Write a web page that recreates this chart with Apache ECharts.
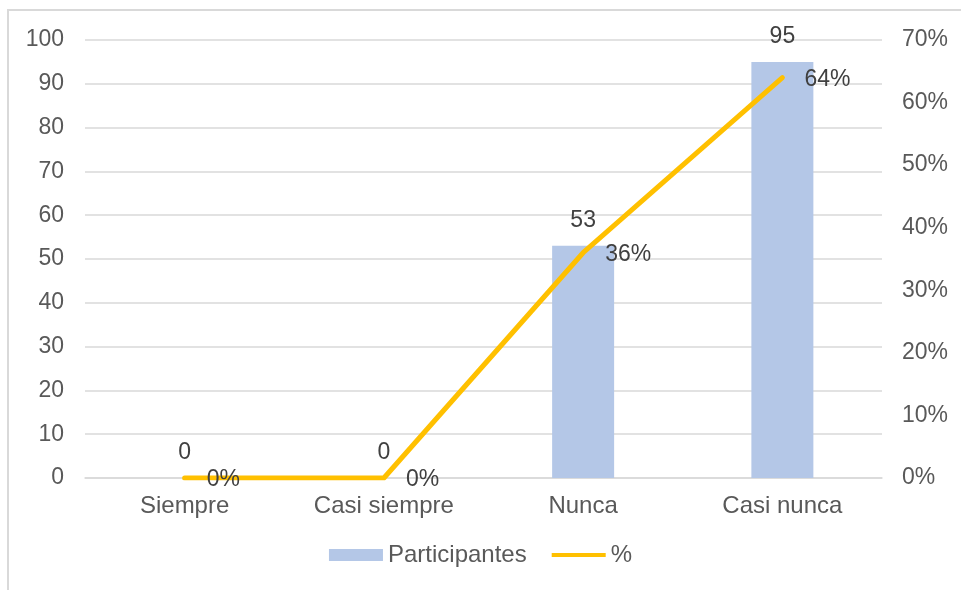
<!DOCTYPE html>
<html>
<head>
<meta charset="utf-8">
<script src="https://cdn.jsdelivr.net/npm/echarts@6/dist/echarts.min.js"></script>
<style>
  html, body { margin: 0; padding: 0; background: #fff; }
  #frame { position: absolute; left: 7px; top: 9px; width: 1000px; height: 700px; border: 2px solid #d9d9d9; }
  #chart { position: absolute; left: 0; top: 0; width: 961px; height: 590px; }
</style>
</head>
<body>
<div id="frame"></div>
<div id="chart"></div>
<script>
// datos del gráfico
var categorias = ['Siempre', 'Casi siempre', 'Nunca', 'Casi nunca'];
var participantes = [0, 0, 53, 95];
var porcentaje = [0, 0, 36, 64];
var ticksIzq = [0, 10, 20, 30, 40, 50, 60, 70, 80, 90, 100];
var ticksDer = [0, 10, 20, 30, 40, 50, 60, 70];

var gris = '#595959';
var fuente = 'Liberation Sans, Arial, sans-serif';

var myChart = echarts.init(document.getElementById('chart'));
var option = {
  animation: false,
  textStyle: { fontFamily: fuente },
  grid: { left: 85, right: 79, top: 40, bottom: 112 },
  legend: {
    bottom: 18,
    left: 'center',
    itemGap: 25,
    itemWidth: 54,
    itemHeight: 12,
    textStyle: { color: gris, fontSize: 24, fontFamily: fuente },
    data: [
      { name: 'Participantes', icon: 'rect' },
      { name: '%', icon: 'path://M0,0h0.01v0.01h-0.01zM0,4h56v4h-56zM55.99,11.99h0.01v0.01h-0.01z' }
    ]
  },
  xAxis: {
    type: 'category',
    data: categorias,
    axisLine: { lineStyle: { color: '#d9d9d9', width: 1.5 } },
    axisTick: { show: false },
    axisLabel: { color: gris, fontSize: 24, margin: 16 }
  },
  yAxis: [
    {
      type: 'value',
      min: ticksIzq[0],
      max: ticksIzq[ticksIzq.length - 1],
      interval: 10,
      axisLine: { show: false },
      axisTick: { show: false },
      axisLabel: { color: gris, fontSize: 23, margin: 21 },
      splitLine: { lineStyle: { color: '#d9d9d9', width: 1.5 } }
    },
    {
      type: 'value',
      min: ticksDer[0],
      max: ticksDer[ticksDer.length - 1],
      interval: 10,
      axisLine: { show: false },
      axisTick: { show: false },
      axisLabel: { color: gris, fontSize: 23, margin: 20, formatter: '{value}%' },
      splitLine: { show: false }
    }
  ],
  series: [
    {
      name: 'Participantes',
      type: 'bar',
      data: participantes,
      barWidth: 62,
      itemStyle: { color: '#b4c7e7' },
      label: { show: true, position: 'top', distance: 14, color: '#404040', fontSize: 23 }
    },
    {
      name: '%',
      type: 'line',
      yAxisIndex: 1,
      data: porcentaje,
      symbol: 'circle',
      symbolSize: 0.1,
      showSymbol: true,
      lineStyle: { color: '#ffc000', width: 5, cap: 'round', join: 'round' },
      itemStyle: { color: '#ffc000' },
      label: { show: true, position: 'right', distance: 22, offset: [0, 2], color: '#404040', fontSize: 23, formatter: '{c}%' }
    }
  ]
};
myChart.setOption(option);
</script>
</body>
</html>
